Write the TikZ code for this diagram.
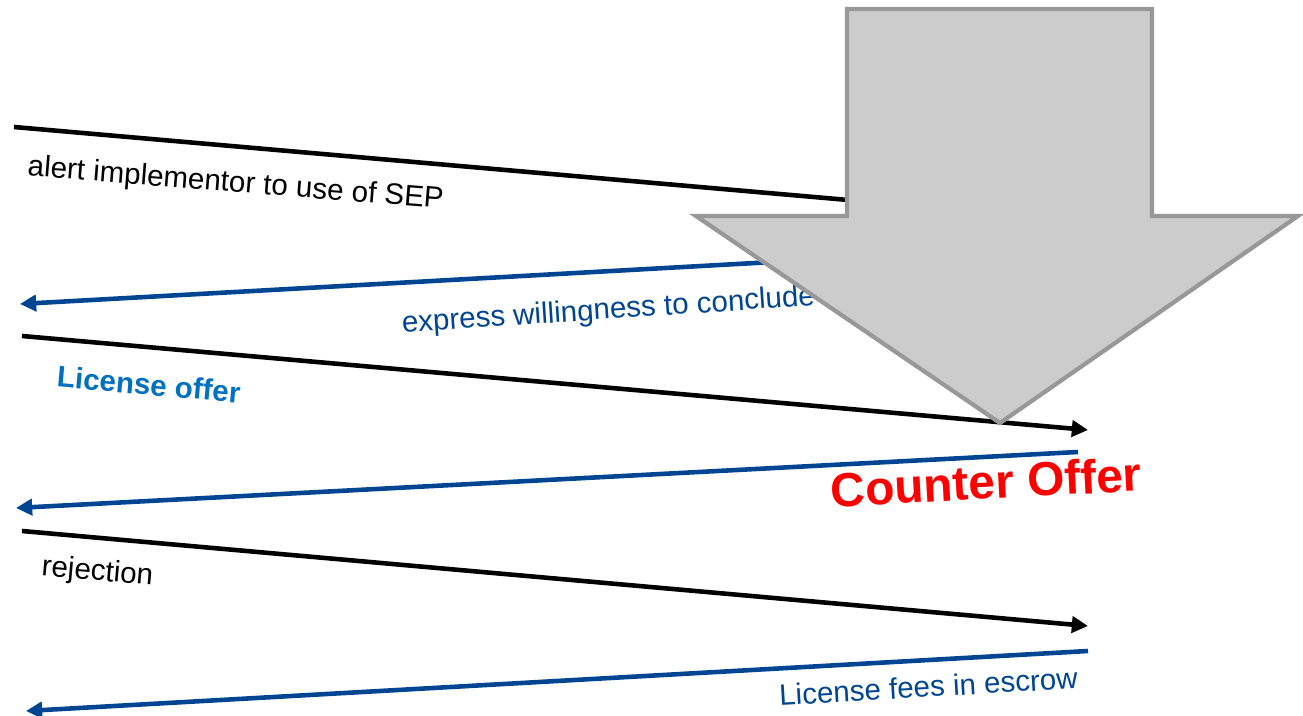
\documentclass[tikz,border=0pt]{standalone}
\usepackage{fontspec}
\setmainfont{Liberation Sans}
\usetikzlibrary{arrows.meta}
\definecolor{msgblue}{RGB}{0,69,145}
\definecolor{offerblue}{RGB}{0,112,192}
\definecolor{bigarrowfill}{RGB}{204,204,204}
\definecolor{bigarrowedge}{RGB}{152,152,152}

\begin{document}
\begin{tikzpicture}[x=0.01cm, y=-0.01cm,
  msg/.style={line width=1.3pt, -{Triangle[length=4.6pt, width=4.6pt]}},
  tomsg/.style={msg, draw=black},
  backmsg/.style={msg, draw=msgblue, fill=msgblue},
  lbl/.style={inner sep=0pt, anchor=base, font=\fontsize{8.4}{10}\selectfont},
  bigarrow/.style={fill=bigarrowfill, draw=bigarrowedge, line width=1.2pt}
]
\useasboundingbox (0,0) rectangle (1303,716);

% Enden links (Rechteinhaber) und rechts (Implementierer)
\coordinate (h1) at (14,127);  \coordinate (i1) at (1088,221);
\coordinate (h2) at (20,304);  \coordinate (i2) at (1078,245);
\coordinate (h3) at (22,336);  \coordinate (i3) at (1088,430);
\coordinate (h4) at (16,508);  \coordinate (i4) at (1078,452);
\coordinate (h5) at (22,531);  \coordinate (i5) at (1088,626);
\coordinate (h6) at (26,711);  \coordinate (i6) at (1088,651);

% Nachrichten
\draw[tomsg] (h1) -- (i1);
\draw[backmsg] (i2) -- (h2);
\draw[tomsg] (h3) -- (i3);
\draw[backmsg] (i4) -- (h4);
\draw[tomsg] (h5) -- (i5);
\draw[backmsg] (i6) -- (h6);

% Beschriftungen
\node[lbl, rotate=-4.5] (alert) at (235,192) {alert implementor to use of SEP};
\node[lbl, rotate=3.8, text=msgblue] (willing) at (609,319) {express willingness to conclude};
\node[lbl, rotate=-5, text=offerblue, font=\fontsize{8.4}{10}\selectfont\bfseries] (offer) at (148,395) {License offer};
\node[lbl, rotate=3, text=red, font=\fontsize{13.6}{16}\selectfont\bfseries] (counter) at (987,499) {Counter Offer};
\node[lbl, rotate=-5, yshift=-1pt] (reject) at (97,577) {rejection};
\node[lbl, rotate=3.3, text=msgblue] (escrow) at (929,697) {License fees in escrow};

% grosser Pfeil
\draw[bigarrow] (847,9) -- (1152,9) -- (1152,216) -- (1298,216) -- (1000,423)
  -- (696,216) -- (847,216) -- cycle;

\end{tikzpicture}
\end{document}
